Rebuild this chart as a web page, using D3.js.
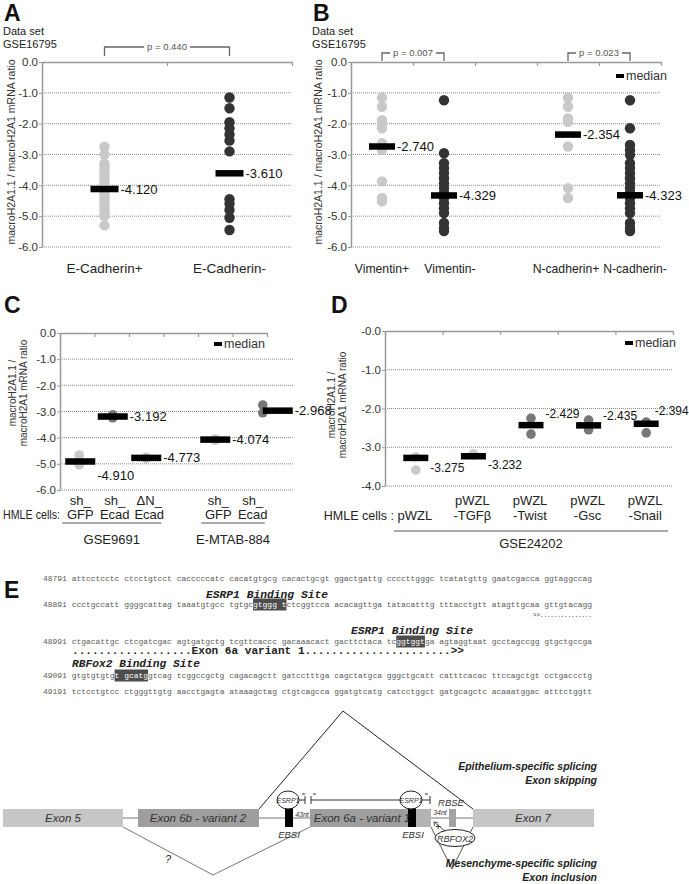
<!DOCTYPE html>
<html><head><meta charset="utf-8">
<script src="https://cdn.jsdelivr.net/npm/d3@7"></script>
<style>
body{margin:0;background:#fff;}
svg{display:block;font-family:"Liberation Sans",Arial,sans-serif;}
</style></head><body>
<svg id="c" width="689" height="884"></svg>
<script>
// ---------------- DATA ----------------
const yTicks6 = [0,-1,-2,-3,-4,-5,-6];
const yTickLabels6 = ["0.0","-1.0","-2.0","-3.0","-4.0","-5.0","-6.0"];
const yTicks4 = [0,-1,-2,-3,-4];
const yTickLabelsD = ["-0.0","-1.0","-2.0","-3.0","-4.0"];

// Panel A
const aCats = ["E-Cadherin+","E-Cadherin-"];
const aPos = [-2.75,-3.0,-3.3,-3.4,-3.5,-3.6,-3.7,-3.8,-3.9,-4.0,-4.1,-4.2,-4.3,-4.4,-4.5,-4.6,-4.7,-4.8,-4.9,-5.0,-5.3];
const aNeg = [-1.15,-1.5,-1.95,-2.15,-2.35,-2.55,-2.9,-4.45,-4.6,-4.8,-5.05,-5.45];
const aMedians = [-4.120,-3.610];
const aPText = "p = 0.440";

// Panel B
const bCats = ["Vimentin+","Vimentin-","","N-cadherin+","N-cadherin-"];
const bVimPos = [-1.16,-1.45,-1.89,-2.0,-2.15,-2.63,-2.85,-3.87,-4.41,-4.52];
const bVimNeg = [-1.24,-2.96,-3.28,-3.44,-3.6,-3.77,-3.93,-4.09,-4.25,-4.41,-4.58,-4.74,-4.9,-5.22,-5.38,-5.48];
const bNcadPos = [-1.16,-1.45,-1.83,-1.94,-2.74,-4.09,-4.41];
const bNcadNeg = [-1.24,-2.15,-2.69,-2.85,-3.01,-3.28,-3.44,-3.6,-3.77,-3.93,-4.09,-4.25,-4.41,-4.58,-4.74,-4.9,-5.22,-5.38,-5.48];
const bMedians = [-2.740,-4.329,null,-2.354,-4.323];
const bPTexts = ["p = 0.007","p = 0.023"];

// Panel C
const cCatsTop = ["sh_","sh_","\u0394N_","","sh_","sh_"];
const cCatsBottom = ["GFP","Ecad","Ecad","","GFP","Ecad"];
const cValues = [[-4.66,-5.04],[-3.13,-3.24],[-4.75,-4.8],[],[-4.05,-4.1],[-2.75,-3.05]];
const cMedians = [-4.910,-3.192,-4.773,null,-4.074,-2.968];
const cGroups = ["GSE9691","E-MTAB-884"];

// Panel D
const dCatsTop = ["","pWZL","pWZL","pWZL","pWZL"];
const dCatsBottom = ["pWZL","-TGF\u03b2","-Twist","-Gsc","-Snail"];
const dValues = [[-3.25,-3.59],[-3.17,-3.2],[-2.25,-2.66],[-2.3,-2.55],[-2.35,-2.63]];
const dMedians = [-3.275,-3.232,-2.429,-2.435,-2.394];
const dGroup = "GSE24202";

// Panel E sequence
const seqLines = [
 "48791 attcctcctc ctcctgtcct cacccccatc cacatgtgcg cacactgcgt ggactgattg ccccttgggc tcatatgttg gaatcgacca ggtaggccag",
 "48891 ccctgccatt ggggcattag taaatgtgcc tgtgcgtggg tctcggtcca acacagttga tatacatttg tttacctgtt atagttgcaa gttgtacagg",
 "48991 ctgacattgc ctcgatcgac agtgatgctg tcgttcaccc gacaaacact gacttctaca tcggtggtga agtaggtaat gcctagccgg gtgctgccga",
 "49091 gtgtgtgtgt gcatggtcag tcggccgctg cagacagctt gatcctttga cagctatgca gggctgcatt catttcacac ttccagctgt cctgaccctg",
 "49191 tctcctgtcc ctgggttgtg aacctgagta ataaagctag ctgtcagcca ggatgtcatg catcctggct gatgcagctc acaaatggac atttctggtt"
];
const highlights = [ {line:1, from:44, to:51}, {line:2, from:74, to:80}, {line:3, from:15, to:22} ];

// ---------------- DRAW ----------------
const svg = d3.select("#c");
const LIGHT = "#c9c9c9", DARK = "#333333", MID = "#777777";

function panelLetter(t, x, y){
  svg.append("text").attr("x",x).attr("y",y).text(t)
    .attr("font-size",23).attr("font-weight","bold").attr("fill","#111");
}
function dataSet(x){
  svg.append("text").attr("x",x).attr("y",35).attr("font-size",11).attr("fill","#222").text("Data set");
  svg.append("text").attr("x",x).attr("y",48).attr("font-size",11).attr("fill","#222").text("GSE16795");
}

function dotPanel(o){
  const g = svg.append("g");
  const y = d3.scaleLinear().domain([0, o.yMin]).range([o.yTop, o.yBot]);
  const xs = d3.scaleLinear().domain([0, o.n]).range([o.x0, o.x1]);
  g.selectAll("line.grid").data(o.ticks.filter(t=>t!==0)).join("line")
    .attr("x1",o.x0).attr("x2",o.gridEnd).attr("y1",d=>y(d)).attr("y2",d=>y(d))
    .attr("stroke","#8a8a8a").attr("stroke-width",1).attr("stroke-dasharray","1,1");
  const ya = g.append("g").attr("transform",`translate(${o.x0},0)`)
    .call(d3.axisLeft(y).tickValues(o.ticks).tickFormat((d,i)=>o.tickLabels[i]).tickSize(3).tickSizeOuter(0).tickPadding(1));
  ya.select(".domain").attr("stroke","#999").attr("stroke-width",1.5);
  ya.selectAll(".tick line").attr("stroke","#999");
  ya.selectAll(".tick text").attr("font-size",11.5).attr("fill","#333").attr("font-family","Liberation Sans, Arial");
  const ta = g.append("g").attr("transform",`translate(0,${o.yTop})`)
    .call(d3.axisBottom(xs).tickValues(d3.range(o.n+1)).tickFormat("").tickSize(4).tickSizeOuter(0));
  ta.select(".domain").attr("stroke","#999").attr("stroke-width",1.5);
  ta.selectAll(".tick line").attr("stroke","#999").attr("stroke-width",1.2);
  return {g, y, xs};
}

function dots(g, xc, vals, y, color, r){
  g.append("g").selectAll("circle").data(vals).join("circle")
    .attr("cx",xc).attr("cy",d=>y(d)).attr("r",r).attr("fill",color);
}
function median(g, xc, v, y, w, h, fs, dx, dy){
  g.append("rect").attr("x",xc-w/2).attr("y",y(v)-h/2).attr("width",w).attr("height",h).attr("fill","#000");
  g.append("text").attr("x",xc+w/2+2+dx).attr("y",y(v)+dy).attr("dy","0.35em")
    .attr("font-size",fs).attr("fill","#111").text(v.toFixed(3));
}
function yTitle(lines, x, y, fs, gap){
  lines.forEach((t,i)=>{
    svg.append("text").attr("transform",`translate(${x+i*gap},${y}) rotate(-90)`)
      .attr("text-anchor","middle").attr("font-size",fs).attr("fill","#333").text(t);
  });
}
function pBracket(xa, xb, yl, yb, txt){
  const g = svg.append("g");
  g.append("path").attr("d",`M${xa},${yb}V${yl}H${xb}V${yb}`).attr("fill","none").attr("stroke","#666").attr("stroke-width",1.3);
  const t = g.append("text").attr("x",(xa+xb)/2).attr("y",yl).attr("dy","0.35em").attr("text-anchor","middle")
    .attr("font-size",9.5).attr("fill","#555").text(txt);
  const bb = t.node().getBBox();
  g.insert("rect","text").attr("x",bb.x-3).attr("y",bb.y).attr("width",bb.width+6).attr("height",bb.height).attr("fill","#fff");
}
function legendMedian(x, y){
  svg.append("rect").attr("x",x).attr("y",y-2).attr("width",8).attr("height",4).attr("fill","#000");
  svg.append("text").attr("x",x+10).attr("y",y).attr("dy","0.35em").attr("font-size",12.5).attr("fill","#333").text("median");
}
function label(txt, x, y, fs, anchor){
  return svg.append("text").attr("x",x).attr("y",y).attr("text-anchor",anchor||"middle").attr("font-size",fs).attr("fill","#222").text(txt);
}

// ---- Panel A ----
panelLetter("A", 4, 21);
dataSet(3);
{
  const P = dotPanel({x0:42,x1:292,gridEnd:292,yTop:62,yBot:247,yMin:-6,n:2,ticks:yTicks6,tickLabels:yTickLabels6});
  const cx = i=>P.xs(i+0.5);
  dots(P.g, cx(0), aPos, P.y, LIGHT, 5.2);
  dots(P.g, cx(1), aNeg, P.y, DARK, 5.2);
  aMedians.forEach((m,i)=>median(P.g, cx(i), m, P.y, 28, 6.5, 13, 0, 0));
  aCats.forEach((c,i)=>label(c, cx(i), 273, 13.5));
  pBracket(cx(0), cx(1), 47, 56, aPText);
}
yTitle(["macroH2A1.1  /  macroH2A1 mRNA ratio"], 15, 152, 10.5, 0);

// ---- Panel B ----
panelLetter("B", 313, 21);
dataSet(312);
{
  const P = dotPanel({x0:351,x1:661,gridEnd:661,yTop:62,yBot:247,yMin:-6,n:5,ticks:yTicks6,tickLabels:yTickLabels6});
  const cx = i=>P.xs(i+0.5);
  dots(P.g, cx(0), bVimPos, P.y, LIGHT, 5.2);
  dots(P.g, cx(1), bVimNeg, P.y, DARK, 5.2);
  dots(P.g, cx(3), bNcadPos, P.y, LIGHT, 5.2);
  dots(P.g, cx(4), bNcadNeg, P.y, DARK, 5.2);
  bMedians.forEach((m,i)=>{ if(m!==null) median(P.g, cx(i), m, P.y, 26, 6.5, 13, 0, 0); });
  const lx = [0,6,0,-2,5];
  bCats.forEach((c,i)=>{ if(c) label(c, cx(i)+lx[i], 273, 12.2); });
  pBracket(cx(0), cx(1), 53, 61, bPTexts[0]);
  pBracket(cx(3), cx(4), 53, 61, bPTexts[1]);
  legendMedian(616, 76);
}
yTitle(["macroH2A1.1  /  macroH2A1 mRNA ratio"], 322, 152, 10.5, 0);

// ---- Panel C ----
panelLetter("C", 4, 313);
{
  const P = dotPanel({x0:60,x1:267,gridEnd:293,yTop:333,yBot:490,yMin:-6,n:6,ticks:yTicks6,tickLabels:yTickLabels6});
  const cx = i=>P.xs(i+0.5);
  const cols = [LIGHT, MID, LIGHT, LIGHT, LIGHT, MID];
  // the last column's marks sit right of its label in the original figure
  const dotShift = [2,1,0,0,0,13], barShift = [3,1,0,0,0,28];
  cValues.forEach((v,i)=>dots(P.g, cx(i)+dotShift[i], v, P.y, cols[i], 4.8));
  const lo = [[0,14],[0,0],[0,0],[0,0],[0,0],[0,0]];
  cMedians.forEach((m,i)=>{ if(m!==null) median(P.g, cx(i)+barShift[i], m, P.y, 30, 6.5, 13, lo[i][0], lo[i][1]); });
  cCatsTop.forEach((c,i)=>{ if(c) label(c, cx(i)+3, 505, 13); });
  cCatsBottom.forEach((c,i)=>{ if(c) label(c, cx(i)+3, 519, 13); });
  label("HMLE cells:", 3, 519, 12.5, "start").attr("textLength",57).attr("lengthAdjust","spacingAndGlyphs");
  const gl = [[cx(0)-15,cx(2)+15],[cx(4)-14,cx(5)+15]];
  gl.forEach((r,i)=>{
    svg.append("line").attr("x1",r[0]).attr("x2",r[1]).attr("y1",523).attr("y2",523).attr("stroke","#555").attr("stroke-width",1);
    label(cGroups[i], (r[0]+r[1])/2, 544, 13);
  });
  legendMedian(214, 344);
}
yTitle(["macroH2A1.1  /","macroH2A1 mRNA ratio"], 16, 393, 10, 11);

// ---- Panel D ----
panelLetter("D", 331, 313);
{
  const P = dotPanel({x0:385,x1:673,gridEnd:673,yTop:331,yBot:486,yMin:-4,n:5,ticks:yTicks4,tickLabels:yTickLabelsD});
  const cx = i=>P.xs(i+0.5);
  const cols = [LIGHT, LIGHT, MID, MID, MID];
  dValues.forEach((v,i)=>dots(P.g, cx(i)+2, v, P.y, cols[i], 4.8));
  const lo = [[0,10],[0,9],[0,-11],[0,-10],[-6,-13]];
  dMedians.forEach((m,i)=>median(P.g, cx(i)+2, m, P.y, 25, 6.5, 12, lo[i][0], lo[i][1]));
  dCatsTop.forEach((c,i)=>{ if(c) label(c, cx(i)+1, 505, 13); });
  dCatsBottom.forEach((c,i)=>label(c, cx(i)+1, 520, 13));
  label("HMLE cells :", 394, 520, 12.5, "end");
  svg.append("line").attr("x1",394).attr("x2",668).attr("y1",531).attr("y2",531).attr("stroke","#555").attr("stroke-width",1);
  label(dGroup, 531, 548, 13);
  legendMedian(625, 343);
}
yTitle(["macroH2A1.1  /","macroH2A1 mRNA ratio"], 335, 405, 10, 11);

// ---- Panel E ----
panelLetter("E", 4, 598);
{
  const SX = 43, SW = 549, NCH = 115, cw = SW/NCH;
  const ys = [581, 607, 644, 678, 694];
  highlights.forEach(h=>{
    svg.append("rect").attr("x",SX+h.from*cw).attr("y",ys[h.line]-8.5).attr("width",(h.to-h.from)*cw).attr("height",12).attr("fill","#4d4d4d");
  });
  seqLines.forEach((s,i)=>{
    const t = svg.append("text").attr("x",SX).attr("y",ys[i]).attr("font-family","Liberation Mono, Courier New, monospace")
      .attr("font-size",8).attr("fill","#5a5a5a").attr("textLength",SW).attr("lengthAdjust","spacingAndGlyphs").attr("xml:space","preserve");
    const hs = highlights.filter(h=>h.line===i);
    if(hs.length===0){ t.text(s); }
    else {
      const h = hs[0];
      t.append("tspan").text(s.slice(0,h.from));
      t.append("tspan").attr("fill","#fff").text(s.slice(h.from,h.to));
      t.append("tspan").text(s.slice(h.to));
    }
  });
  const bi = (txt,x,y,fs,len)=>{
    const t = svg.append("text").attr("x",x).attr("y",y).attr("font-family","Liberation Mono, Courier New, monospace")
      .attr("font-size",fs).attr("font-weight","bold").attr("font-style","italic").attr("fill","#222").text(txt);
    if(len) t.attr("textLength",len).attr("lengthAdjust","spacingAndGlyphs");
  };
  bi("ESRP1 Binding Site", 206, 598, 11, 122);
  bi("ESRP1 Binding Site", 351, 634, 11, 122);
  bi("RBFox2 Binding Site", 72, 667, 11, 128);
  svg.append("text").attr("x",533).attr("y",617).attr("font-family","Liberation Mono, monospace").attr("font-size",8).attr("fill","#333")
    .attr("textLength",59).attr("lengthAdjust","spacingAndGlyphs").text(">>...............");
  svg.append("text").attr("x",72).attr("y",654).attr("font-family","Liberation Mono, monospace").attr("font-size",11).attr("font-weight","bold").attr("fill","#222")
    .attr("textLength",392).attr("lengthAdjust","spacingAndGlyphs").text("..................Exon 6a variant 1......................>>");
}

// ---- Panel E diagram ----
{
  const g = svg.append("g");
  const ex0 = 809, ex1 = 827, mid = 818;
  [[123,138],[259,310],[431,473]].forEach(r=>g.append("line").attr("x1",r[0]).attr("x2",r[1]).attr("y1",mid).attr("y2",mid).attr("stroke","#777").attr("stroke-width",1));
  g.append("path").attr("d","M259,809L343,711L473,809").attr("fill","none").attr("stroke","#222").attr("stroke-width",1);
  g.append("path").attr("d","M123,827L213,875L310,827").attr("fill","none").attr("stroke","#777").attr("stroke-width",1);
  g.append("path").attr("d","M431,827L452,869L473,827").attr("fill","none").attr("stroke","#555").attr("stroke-width",1);
  const exon = (x0,x1,fill)=>g.append("rect").attr("x",x0).attr("y",ex0).attr("width",x1-x0).attr("height",ex1-ex0).attr("fill",fill);
  exon(3,123,"#c6c6c6");
  exon(138,259,"#9e9e9e");
  exon(310,408,"#9e9e9e");
  exon(416,431,"#b3b3b3");
  exon(449,456,"#a3a3a3");
  exon(473,594,"#c6c6c6");
  g.append("rect").attr("x",285).attr("y",807).attr("width",8).attr("height",20).attr("fill","#000");
  g.append("rect").attr("x",408).attr("y",807).attr("width",8).attr("height",20).attr("fill","#000");
  const it = (txt,x,y,fs,anchor,fill)=>g.append("text").attr("x",x).attr("y",y).attr("font-size",fs).attr("font-style","italic")
     .attr("text-anchor",anchor||"middle").attr("fill",fill||"#333").text(txt);
  it("Exon 5",63,822,11.5);
  it("Exon 6b - variant 2",198,822,11.5);
  it("Exon 6a - variant 1",362,822,11.5);
  it("Exon 7",533,822,11.5);
  it("EBSI",289,838,9.5);
  it("EBSI",413,838,9.5);
  it("43nt",302,817,7);
  it("34nt",440,815,7);
  it("RBSE",451,806,9.5);
  it("?",168,863,11);
  it("+",438,830,10);
  g.append("path").attr("d","M299,800H305M305,796V804M311,796V804M311,800H400M422,800H430M430,796V804")
    .attr("fill","none").attr("stroke","#333").attr("stroke-width",1);
  g.append("path").attr("d","M302,794H305M313,794H316M425,794H428").attr("stroke","#333").attr("stroke-width",1);
  [[288,800],[411,800]].forEach(c=>{
    g.append("ellipse").attr("cx",c[0]).attr("cy",c[1]).attr("rx",11).attr("ry",9).attr("fill","#fff").attr("stroke","#222").attr("stroke-width",1);
    it("ESRP1",c[0],c[1]+2.5,7);
  });
  g.append("path").attr("d","M446,832L434,822M434,822l4,0.5M434,822l0.5,4").attr("stroke","#333").attr("fill","none").attr("stroke-width",0.8);
  g.append("ellipse").attr("cx",455).attr("cy",838).attr("rx",20).attr("ry",8.5).attr("fill","#fff").attr("stroke","#222").attr("stroke-width",1);
  it("RBFOX2",455,841.5,9);
  const rt = (txt,y)=>g.append("text").attr("x",597).attr("y",y).attr("text-anchor","end").attr("font-size",10.5)
     .attr("font-style","italic").attr("font-weight",600).attr("fill","#222").text(txt);
  rt("Epithelium-specific splicing",770);
  rt("Exon skipping",784);
  rt("Mesenchyme-specific splicing",867);
  rt("Exon inclusion",881);
}
</script>
</body></html>
